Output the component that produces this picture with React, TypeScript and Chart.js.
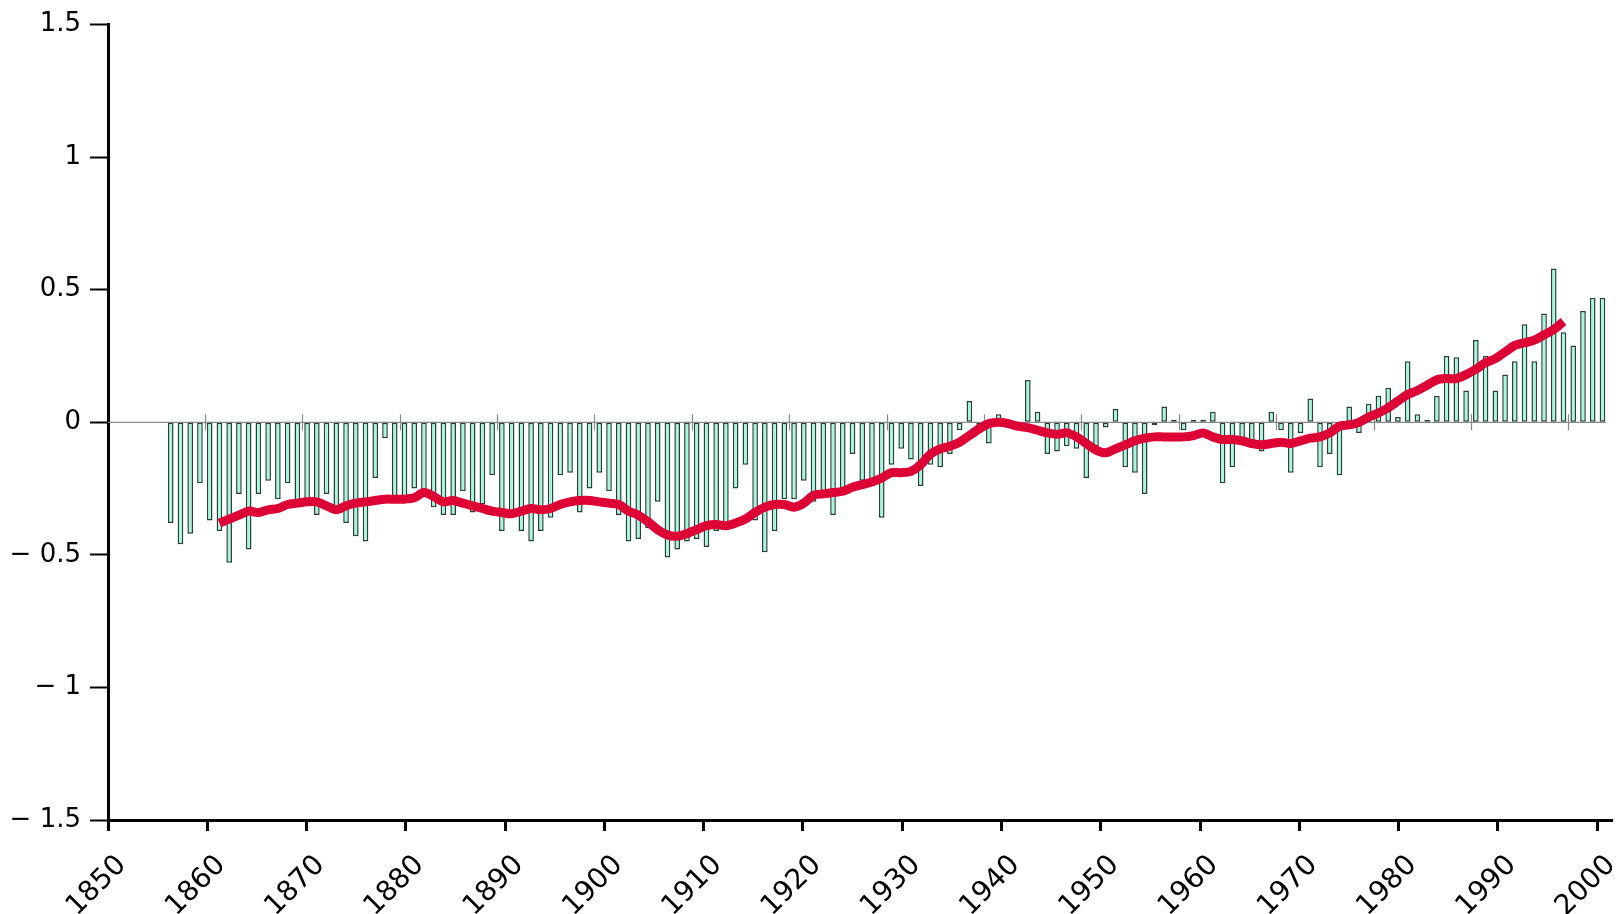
import React, { useEffect, useRef } from 'react';
import { Chart, registerables } from 'chart.js';

Chart.register(...registerables);

// Annual temperature anomaly (°C), one bar per year starting at 1856
const ANOMALY_START_YEAR = 1856;
const anomaly = [
  // 1856-1865
  -0.38, -0.46, -0.42, -0.23, -0.37, -0.41, -0.53, -0.27, -0.48, -0.27,
  // 1866-1875
  -0.22, -0.29, -0.23, -0.30, -0.30, -0.35, -0.27, -0.32, -0.38, -0.43,
  // 1876-1885
  -0.45, -0.21, -0.06, -0.28, -0.28, -0.25, -0.27, -0.32, -0.35, -0.35,
  // 1886-1895
  -0.26, -0.34, -0.31, -0.20, -0.41, -0.34, -0.41, -0.45, -0.41, -0.36,
  // 1896-1905
  -0.20, -0.19, -0.34, -0.25, -0.19, -0.26, -0.35, -0.45, -0.44, -0.40,
  // 1906-1915
  -0.30, -0.51, -0.48, -0.45, -0.44, -0.47, -0.41, -0.40, -0.25, -0.16,
  // 1916-1925
  -0.37, -0.49, -0.41, -0.29, -0.29, -0.22, -0.30, -0.27, -0.35, -0.25,
  // 1926-1935
  -0.12, -0.22, -0.22, -0.36, -0.16, -0.10, -0.14, -0.24, -0.16, -0.17,
  // 1936-1945
  -0.12, -0.03, 0.08, -0.04, -0.08, 0.03, -0.02, -0.01, 0.16, 0.04,
  // 1946-1955
  -0.12, -0.11, -0.09, -0.10, -0.21, -0.09, -0.02, 0.05, -0.17, -0.19,
  // 1956-1965
  -0.27, -0.01, 0.06, 0.01, -0.03, 0.01, 0.01, 0.04, -0.23, -0.17,
  // 1966-1975
  -0.08, -0.07, -0.11, 0.04, -0.03, -0.19, -0.04, 0.09, -0.17, -0.12,
  // 1976-1985
  -0.20, 0.06, -0.04, 0.07, 0.10, 0.13, 0.02, 0.23, 0.03, 0.01,
  // 1986-1995
  0.10, 0.25, 0.245, 0.12, 0.31, 0.25, 0.12, 0.18, 0.23, 0.37,
  // 1996-2003
  0.23, 0.41, 0.58, 0.34, 0.29, 0.42, 0.47, 0.47,
];

// Smoothed curve, one value per year starting at 1861
const SMOOTH_START_YEAR = 1861;
const smoothed = [
  // 1861-1870
  -0.38, -0.365, -0.35, -0.335, -0.34, -0.33, -0.325, -0.31, -0.305, -0.30,
  // 1871-1880
  -0.30, -0.315, -0.33, -0.315, -0.305, -0.30, -0.295, -0.29, -0.29, -0.29,
  // 1881-1890
  -0.285, -0.265, -0.28, -0.30, -0.295, -0.305, -0.315, -0.325, -0.335, -0.34,
  // 1891-1900
  -0.345, -0.335, -0.325, -0.33, -0.325, -0.31, -0.30, -0.295, -0.295, -0.30,
  // 1901-1910
  -0.305, -0.31, -0.335, -0.35, -0.375, -0.405, -0.425, -0.43, -0.42, -0.405,
  // 1911-1920
  -0.39, -0.385, -0.39, -0.38, -0.365, -0.34, -0.32, -0.31, -0.31, -0.32,
  // 1921-1930
  -0.305, -0.275, -0.27, -0.265, -0.26, -0.245, -0.235, -0.225, -0.21, -0.19,
  // 1931-1940
  -0.19, -0.185, -0.16, -0.12, -0.10, -0.09, -0.075, -0.05, -0.025, -0.005,
  // 1941-1950
  0.0, -0.005, -0.015, -0.02, -0.03, -0.04, -0.045, -0.04, -0.055, -0.08,
  // 1951-1960
  -0.105, -0.115, -0.10, -0.085, -0.07, -0.06, -0.055, -0.055, -0.055, -0.055,
  // 1961-1970
  -0.05, -0.04, -0.055, -0.065, -0.065, -0.07, -0.08, -0.085, -0.08, -0.075,
  // 1971-1980
  -0.08, -0.07, -0.06, -0.055, -0.04, -0.015, -0.01, 0.0, 0.02, 0.035,
  // 1981-1990
  0.055, 0.08, 0.105, 0.12, 0.14, 0.16, 0.165, 0.165, 0.18, 0.20,
  // 1991-1999
  0.225, 0.24, 0.265, 0.29, 0.30, 0.31, 0.33, 0.35, 0.38,
];

// Axis tick values
const yTicks = [-1.5, -1, -0.5, 0, 0.5, 1, 1.5];
const xTickLabels = [1850, 1860, 1870, 1880, 1890, 1900, 1910, 1920, 1930, 1940, 1950, 1960, 1970, 1980, 1990, 2000];
const zeroLineDecades = [1860, 1870, 1880, 1890, 1900, 1910, 1920, 1930, 1940, 1950, 1960, 1970, 1980, 1990, 2000];

const FAMILY = '"DejaVu Sans", Verdana, sans-serif';

function formatY(v: number): string {
  if (v < 0) return '\u2212 ' + String(Math.abs(v));
  return String(v);
}

export default function App() {
  const canvasRef = useRef<HTMLCanvasElement | null>(null);

  useEffect(() => {
    const canvas = canvasRef.current;
    if (!canvas) return;

    const barData = anomaly.map((v, i) => ({ x: ANOMALY_START_YEAR + i, y: v }));
    const lineData = smoothed.map((v, i) => ({ x: SMOOTH_START_YEAR + i, y: v }));
    const lastYear = ANOMALY_START_YEAR + anomaly.length - 1;

    const zeroLinePlugin = {
      id: 'zeroLine',
      beforeDatasetsDraw(chart: any) {
        const { ctx, chartArea, scales } = chart;
        const xs = scales.x;
        const y0 = scales.y.getPixelForValue(0);
        ctx.save();
        ctx.strokeStyle = '#8a8a8a';
        ctx.lineWidth = 1.2;
        ctx.beginPath();
        ctx.moveTo(chartArea.left, y0);
        ctx.lineTo(xs.getPixelForValue(lastYear + 0.35), y0);
        ctx.stroke();
        ctx.beginPath();
        for (const d of zeroLineDecades) {
          const px = Math.round(xs.getPixelForValue(d - 0.5)) + 0.5;
          ctx.moveTo(px, y0 - 8);
          ctx.lineTo(px, y0 + 8);
        }
        ctx.stroke();
        ctx.restore();
      },
    };

    const chart = new Chart(canvas, {
      type: 'bar',
      data: {
        datasets: [
          {
            type: 'line',
            data: lineData,
            xAxisID: 'x',
            yAxisID: 'y',
            borderColor: '#dc0034',
            borderWidth: 9,
            pointRadius: 0,
            tension: 0.3,
            borderCapStyle: 'butt',
            borderJoinStyle: 'round',
            order: 0,
          } as any,
          {
            type: 'bar',
            data: barData,
            xAxisID: 'x',
            yAxisID: 'y',
            backgroundColor: '#a6f7de',
            borderColor: '#2a3f39',
            borderWidth: 1.5,
            borderSkipped: false,
            barPercentage: 0.58,
            categoryPercentage: 1,
            order: 1,
          } as any,
        ],
      },
      options: {
        animation: false,
        responsive: false,
        maintainAspectRatio: false,
        layout: { padding: { top: 20, right: 10, left: 0, bottom: 0 } },
        plugins: { legend: { display: false }, tooltip: { enabled: false } },
        scales: {
          x: {
            type: 'linear',
            display: false,
            min: 1849.56,
            max: 2003.98,
            offset: false,
            grid: { offset: false },
          },
          xAxis: {
            type: 'linear',
            position: 'bottom',
            min: 1850,
            max: 2001.5,
            offset: false,
            afterFit: (s: any) => {
              s.height = 94;
              s.paddingLeft = 0;
              s.paddingRight = 0;
            },
            afterBuildTicks: (s: any) => {
              s.ticks = xTickLabels.map((v) => ({ value: v }));
            },
            ticks: {
              autoSkip: false,
              minRotation: 45,
              maxRotation: 45,
              font: { family: FAMILY, size: 28 },
              color: '#000',
              padding: 18,
              labelOffset: 14,
              callback: (v: any) => String(v),
            },
            grid: {
              offset: false,
              drawOnChartArea: false,
              drawTicks: true,
              tickLength: 11,
              tickWidth: 3,
              tickColor: '#000',
            },
            border: { display: true, color: '#000', width: 3 },
          },
          y: {
            type: 'linear',
            position: 'left',
            min: -1.5,
            max: 1.5,
            afterFit: (s: any) => {
              s.width = 108;
            },
            afterBuildTicks: (s: any) => {
              s.ticks = yTicks.map((v) => ({ value: v }));
            },
            ticks: {
              font: { family: FAMILY, size: 26 },
              color: '#000',
              padding: 9,
              callback: (v: any) => formatY(Number(v)),
            },
            grid: {
              drawOnChartArea: false,
              drawTicks: true,
              tickLength: 18,
              tickWidth: 2,
              tickColor: '#000',
            },
            border: { display: true, color: '#000', width: 3 },
          },
        },
      } as any,
      plugins: [zeroLinePlugin],
    });

    return () => chart.destroy();
  }, []);

  return (
    <div style={{ position: 'fixed', left: 0, top: 0, width: 1622, height: 914, background: '#fff' }}>
      <canvas ref={canvasRef} width={1622} height={914} style={{ display: 'block' }} />
    </div>
  );
}
